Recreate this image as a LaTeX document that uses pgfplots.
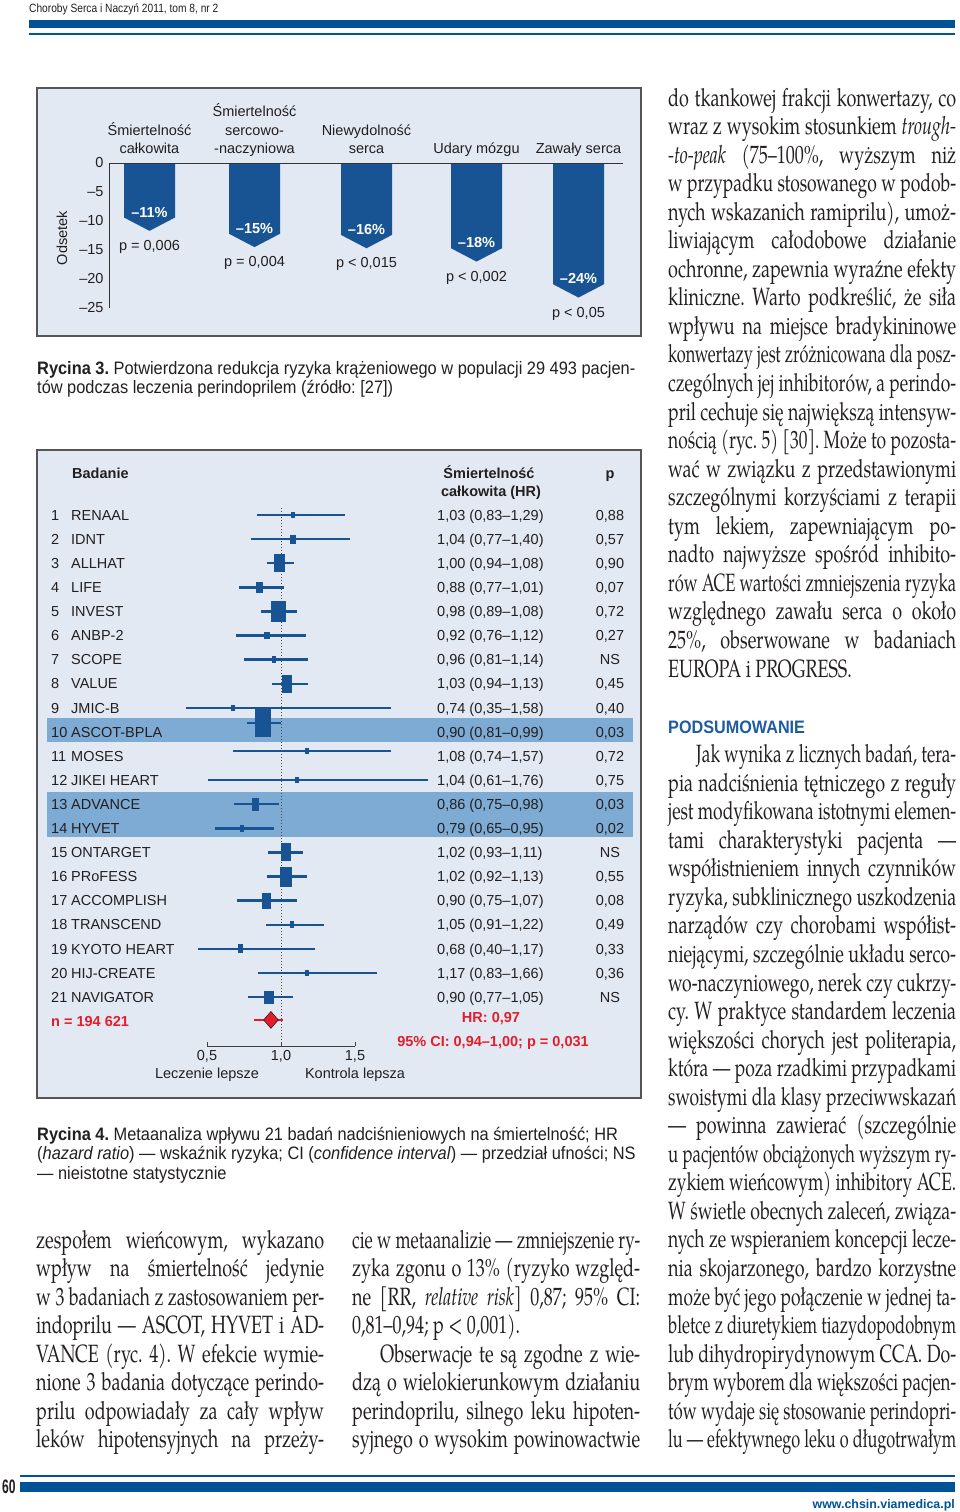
\documentclass[border=0pt]{standalone}
\usepackage{fontspec}
\usepackage{graphicx}
\usepackage{pgfplots}
\usepackage{pgfplotstable}
\pgfplotsset{compat=1.18}
\setmainfont{texgyrepagella}[Extension=.otf, UprightFont=*-regular, BoldFont=*-bold, ItalicFont=*-italic, BoldItalicFont=*-bolditalic, FakeStretch=0.72]
\setsansfont{Liberation Sans}
\newfontfamily\capfont{Liberation Sans}[FakeStretch=0.91]
\newfontfamily\hdrfont{Liberation Sans}[FakeStretch=0.85]
\newfontfamily\headfont{Liberation Sans}[FakeStretch=0.9]
\newfontfamily\numfont{Liberation Sans}[FakeStretch=0.62]
\frenchspacing

\definecolor{barblue}{RGB}{24,83,148}
\definecolor{headblue}{RGB}{0,83,150}
\definecolor{panelbg}{RGB}{227,233,243}
\definecolor{bandc}{RGB}{125,171,212}
\definecolor{framec}{RGB}{85,85,85}
\definecolor{redc}{RGB}{226,30,45}
\definecolor{textc}{RGB}{35,31,32}
\definecolor{subhead}{RGB}{30,92,160}

\newcommand\figfont{\sffamily\fontsize{14.5}{18.5}\selectfont}
\newcommand\bodyfont{\fontsize{25}{28.55}\selectfont\frenchspacing}
\newlength\colw \setlength\colw{288pt}
\newsavebox\lbox
\newcommand\JL[2][\colw]{\sbox\lbox{#2}\ifdim\wd\lbox>#1\relax\resizebox{#1}{\height}{\usebox\lbox}\else\makebox[#1][s]{#2}\fi}

\pgfdeclareplotmark{fbox}{\pgfpathrectangle{\pgfpoint{-0.5*\bw pt}{-0.5*\bh pt}}{\pgfpoint{\bw pt}{\bh pt}}\pgfusepathqfill}

\pgfplotstableread[col sep=semicolon]{
r;ym;hr;lo;hi;w;h;name;txt;p
1;1;1.081;0.838;1.432;4.5;6.5;RENAAL;1,03 (0,83–1,29);0,88
2;2;1.081;0.797;1.466;6;9;IDNT;1,04 (0,77–1,40);0,57
3;3;0.993;0.905;1.088;11;18;ALLHAT;1,00 (0,94–1,08);0,90
4;4;0.858;0.716;1.020;7;11;LIFE;0,88 (0,77–1,01);0,07
5;5;0.980;0.865;1.108;15;21;INVEST;0,98 (0,89–1,08);0,72
6;6;0.905;0.696;1.169;6;7;ANBP-2;0,92 (0,76–1,12);0,27
7;7;0.953;0.750;1.182;4;6.5;SCOPE;0,96 (0,81–1,14);NS
8;8;1.041;0.939;1.182;10;18;VALUE;1,03 (0,94–1,13);0,45
9;9;0.676;0.358;1.743;4;6.5;JMIC-B;0,74 (0,35–1,58);0,40
10;9.63;0.878;0.770;1.000;16;28;ASCOT-BPLA;0,90 (0,81–0,99);0,03
11;10.79;1.176;0.676;1.743;4;6.5;MOSES;1,08 (0,74–1,57);0,72
12;12;1.108;0.507;1.993;4;6.5;JIKEI HEART;1,04 (0,61–1,76);0,75
13;13;0.831;0.682;0.986;7;13;ADVANCE;0,86 (0,75–0,98);0,03
14;14;0.736;0.554;0.953;4.5;6.5;HYVET;0,79 (0,65–0,95);0,02
15;15;1.034;0.912;1.149;10;18;ONTARGET;1,02 (0,93–1,11);NS
16;16;1.034;0.905;1.176;12;20;PRoFESS;1,02 (0,92–1,13);0,55
17;17;0.899;0.703;1.108;9;16;ACCOMPLISH;0,90 (0,75–1,07);0,08
18;18;1.074;0.899;1.291;4;6.5;TRANSCEND;1,05 (0,91–1,22);0,49
19;19;0.723;0.439;1.230;5;9;KYOTO HEART;0,68 (0,40–1,17);0,33
20;20;1.176;0.845;1.649;4;6.5;HIJ-CREATE;1,17 (0,83–1,66);0,36
21;21;0.919;0.777;1.081;10;13;NAVIGATOR;0,90 (0,77–1,05);NS
}\foresttab

\pgfplotstableread{
x tip pct pv
149.5 -11.7 {–11\%} {p = 0,006}
254.5 -14.5 {–15\%} {p = 0,004}
366.5 -14.7 {–16\%} {p < 0,015}
476.5 -17.0 {–18\%} {p < 0,002}
578.5 -23.2 {–24\%} {p < 0,05}
}\barstab

\begin{document}
\begin{tikzpicture}
\begin{scope}[x=1pt,y=-1pt]
\fill[white] (0,0) rectangle (960,1512);
\path[use as bounding box] (0,0) rectangle (960,1512);
% header and footer
\node[anchor=base west, inner sep=0, text=textc] at (29,12.7) {\hdrfont\fontsize{12}{14}\selectfont Choroby Serca i Naczyń 2011, tom 8, nr 2};
\fill[headblue] (29,20) rectangle (955,28);
\fill[headblue] (29,33.2) rectangle (955,34.8);
\fill[headblue] (20,1475.2) rectangle (955,1476.8);
\fill[headblue] (20,1482) rectangle (955,1492);
\node[anchor=base west, inner sep=0, text=textc] at (2,1493) {\numfont\bfseries\fontsize{19.5}{22}\selectfont 60};
\node[anchor=base east, inner sep=0, text=headblue] at (955,1508) {\sffamily\bfseries\fontsize{12.4}{14}\selectfont www.chsin.viamedica.pl};
% panels
\filldraw[fill=panelbg, draw=framec, line width=1.6pt] (37,88) rectangle (641,336);
\filldraw[fill=panelbg, draw=framec, line width=1.6pt] (37,450) rectangle (641,1098);
\fill[bandc] (47,718) rectangle (633,742);
\fill[bandc] (47,792) rectangle (633,837);
% figure 3 label
\node[rotate=90, inner sep=0, font=\figfont, text=textc] at (62,238) {Odsetek};
% figure 4 headers and summary
\node[anchor=base west, inner sep=0, font=\figfont\bfseries, text=textc] at (72,478) {Badanie};
\node[anchor=base, inner sep=0, font=\figfont\bfseries, text=textc] at (489,478) {Śmiertelność};
\node[anchor=base, inner sep=0, font=\figfont\bfseries, text=textc] at (491,496) {całkowita (HR)};
\node[anchor=base, inner sep=0, font=\figfont\bfseries, text=textc] at (610,478) {p};
\node[anchor=base west, inner sep=0, font=\figfont\bfseries, text=redc] at (51,1026) {n = 194 621};
\node[anchor=base, inner sep=0, font=\figfont\bfseries, text=redc] at (491,1022) {HR: 0,97};
\node[anchor=base, inner sep=0, font=\figfont\bfseries, text=redc] at (493,1046) {95\% CI: 0,94–1,00; p = 0,031};
% captions
\node[anchor=base west, inner sep=0, text=textc] at (37,374) {\parbox[t]{660pt}{\raggedright\capfont\fontsize{18}{19.7}\selectfont {\bfseries Rycina 3.} Potwierdzona redukcja ryzyka krążeniowego w populacji 29 493 pacjen-\\tów podczas leczenia perindoprilem (źródło: [27])}};
\node[anchor=base west, inner sep=0, text=textc] at (37,1140) {\parbox[t]{660pt}{\raggedright\capfont\fontsize{18}{19.7}\selectfont {\bfseries Rycina 4.} Metaanaliza wpływu 21 badań nadciśnieniowych na śmiertelność; HR\\(\textit{hazard ratio}) — wskaźnik ryzyka; CI (\textit{confidence interval}) — przedział ufności; NS\\— nieistotne statystycznie}};
% right column
\node[anchor=base west, inner sep=0, text=textc] at (668,106) {\parbox[t]{\colw}{\bodyfont
\JL{do tkankowej frakcji konwertazy, co}\\
\JL{wraz z wysokim stosunkiem \textit{trough-}}\\
\JL{\textit{-to-peak} (75–100\%, wyższym niż}\\
\JL{w przypadku stosowanego w podob-}\\
\JL{nych wskazanich ramiprilu), umoż-}\\
\JL{liwiającym całodobowe działanie}\\
\JL{ochronne, zapewnia wyraźne efekty}\\
\JL{kliniczne. Warto podkreślić, że siła}\\
\JL{wpływu na miejsce bradykininowe}\\
\JL{konwertazy jest zróżnicowana dla posz-}\\
\JL{czególnych jej inhibitorów, a perindo-}\\
\JL{pril cechuje się największą intensyw-}\\
\JL{nością (ryc. 5) [30]. Może to pozosta-}\\
\JL{wać w związku z przedstawionymi}\\
\JL{szczególnymi korzyściami z terapii}\\
\JL{tym lekiem, zapewniającym po-}\\
\JL{nadto najwyższe spośród inhibito-}\\
\JL{rów ACE wartości zmniejszenia ryzyka}\\
\JL{względnego zawału serca o około}\\
\JL{25\%, obserwowane w badaniach}\\
EUROPA i PROGRESS.}};
\node[anchor=base west, inner sep=0, text=subhead] at (668,733) {\headfont\bfseries\fontsize{18}{20}\selectfont PODSUMOWANIE};
\node[anchor=base west, inner sep=0, text=textc] at (668,762.6) {\parbox[t]{\colw}{\bodyfont
\hspace*{28pt}\JL[260pt]{Jak wynika z licznych badań, tera-}\\
\JL{pia nadciśnienia tętniczego z reguły}\\
\JL{jest modyfikowana istotnymi elemen-}\\
\JL{tami charakterystyki pacjenta —}\\
\JL{współistnieniem innych czynników}\\
\JL{ryzyka, subklinicznego uszkodzenia}\\
\JL{narządów czy chorobami współist-}\\
\JL{niejącymi, szczególnie układu serco-}\\
\JL{wo-naczyniowego, nerek czy cukrzy-}\\
\JL{cy. W praktyce standardem leczenia}\\
\JL{większości chorych jest politerapia,}\\
\JL{która — poza rzadkimi przypadkami}\\
\JL{swoistymi dla klasy przeciwwskazań}\\
\JL{— powinna zawierać (szczególnie}\\
\JL{u pacjentów obciążonych wyższym ry-}\\
\JL{zykiem wieńcowym) inhibitory ACE.}\\
\JL{W świetle obecnych zaleceń, związa-}\\
\JL{nych ze wspieraniem koncepcji lecze-}\\
\JL{nia skojarzonego, bardzo korzystne}\\
\JL{może być jego połączenie w jednej ta-}\\
\JL{bletce z diuretykiem tiazydopodobnym}\\
\JL{lub dihydropirydynowym CCA. Do-}\\
\JL{brym wyborem dla większości pacjen-}\\
\JL{tów wydaje się stosowanie perindopri-}\\
\JL{lu — efektywnego leku o długotrwałym}}};
% bottom columns
\node[anchor=base west, inner sep=0, text=textc] at (36,1248) {\parbox[t]{\colw}{\bodyfont
\JL{zespołem wieńcowym, wykazano}\\
\JL{wpływ na śmiertelność jedynie}\\
\JL{w 3 badaniach z zastosowaniem per-}\\
\JL{indoprilu — ASCOT, HYVET i AD-}\\
\JL{VANCE (ryc. 4). W efekcie wymie-}\\
\JL{nione 3 badania dotyczące perindo-}\\
\JL{prilu odpowiadały za cały wpływ}\\
\JL{leków hipotensyjnych na przeży-}}};
\node[anchor=base west, inner sep=0, text=textc] at (352,1248) {\parbox[t]{\colw}{\bodyfont
\JL{cie w metaanalizie — zmniejszenie ry-}\\
\JL{zyka zgonu o 13\% (ryzyko względ-}\\
\JL{ne [RR, \textit{relative risk}] 0,87; 95\% CI:}\\
0,81–0,94; p < 0,001).\\
\hspace*{28pt}\JL[260pt]{Obserwacje te są zgodne z wie-}\\
\JL{dzą o wielokierunkowym działaniu}\\
\JL{perindoprilu, silnego leku hipoten-}\\
\JL{syjnego o wysokim powinowactwie}}};
\end{scope}

% ---------------- Figure 3: bar chart ----------------
\begin{axis}[
  at={(109pt,-163pt)}, anchor=north west,
  width=514pt, height=145pt, scale only axis,
  xmin=109, xmax=623, ymin=-25, ymax=0,
  axis x line*=top, axis y line*=left,
  axis line style={draw=black!80, line width=0.9pt},
  xtick={149.5,254.5,366.5,476.5,578.5},
  xticklabels={{Śmiertelność\\całkowita\strut},{Śmiertelność\\sercowo-\\-naczyniowa\strut},{Niewydolność\\serca\strut},{Udary mózgu\strut},{Zawały serca\strut}},
  xticklabel style={align=center, anchor=south, font=\figfont, text=textc},
  ytick={-25,-20,-15,-10,-5,0},
  yticklabels={–25,–20,–15,–10,–5,0},
  yticklabel style={font=\figfont, text=textc, xshift=-2pt},
  major tick length=0pt,
  clip=false, axis on top,
]
\addplot[fill=barblue, draw=none] coordinates {(124,0) (175,0) (175,-9.4) (149.5,-11.7) (124,-9.4)} -- cycle;
\addplot[fill=barblue, draw=none] coordinates {(229,0) (280,0) (280,-12.2) (254.5,-14.5) (229,-12.2)} -- cycle;
\addplot[fill=barblue, draw=none] coordinates {(341,0) (392,0) (392,-12.4) (366.5,-14.7) (341,-12.4)} -- cycle;
\addplot[fill=barblue, draw=none] coordinates {(451,0) (502,0) (502,-14.7) (476.5,-17.0) (451,-14.7)} -- cycle;
\addplot[fill=barblue, draw=none] coordinates {(553,0) (604,0) (604,-20.9) (578.5,-23.2) (553,-20.9)} -- cycle;
\addplot[only marks, mark=none, nodes near coords, point meta=explicit symbolic,
  nodes near coords align={anchor=center},
  every node near coord/.append style={font=\figfont\bfseries, text=white, inner sep=0pt, text height=10.4pt, text depth=0pt, yshift=19pt}]
  table[x=x, y=tip, meta=pct]{\barstab};
\addplot[only marks, mark=none, nodes near coords, point meta=explicit symbolic,
  nodes near coords align={anchor=center},
  every node near coord/.append style={font=\figfont, text=textc, inner sep=0pt, text height=10.4pt, text depth=0pt, yshift=-14.5pt}]
  table[x=x, y=tip, meta=pv]{\barstab};
\end{axis}

% ---------------- Figure 4: forest plot ----------------
\begin{axis}[
  at={(207pt,-502.95pt)}, anchor=north west,
  width=148pt, height=543pt, scale only axis,
  xmin=0.5, xmax=1.5, ymin=-23.03, ymax=-0.5,
  axis x line*=bottom, axis y line=none,
  axis line style={draw=black!75, line width=0.9pt},
  xtick={0.5,1,1.5},
  xticklabels={{0,5\\Leczenie lepsze},{1,0},{1,5\\Kontrola lepsza}},
  xticklabel style={align=center, anchor=north, font=\figfont, text=textc, inner sep=0pt, yshift=-4pt},
  tick align=inside, major tick length=4pt,
  tick style={draw=black!75, line width=0.9pt},
  clip=false,
]
\draw[black!70, line width=1pt, dash pattern=on 1pt off 2pt] (axis cs:1,-0.71) -- (axis cs:1,-22.9);
% whiskers
\addplot[draw=none, mark=none,
  error bars/.cd, x dir=both, x explicit, error mark=none,
  error bar style={draw=barblue, line width=2.4pt}]
  table[x=hr, y expr=-\thisrow{ym}, x error plus expr=\thisrow{hi}-\thisrow{hr}, x error minus expr=\thisrow{hr}-\thisrow{lo}]{\foresttab};
% weighted squares
\addplot[only marks, mark=fbox, mark options={fill=barblue, draw=none},
  visualization depends on={\thisrow{w}\as\bw},
  visualization depends on={\thisrow{h}\as\bh}]
  table[x=hr, y expr=-\thisrow{ym}]{\foresttab};
% pooled estimate
\addplot[draw=none, mark=none,
  error bars/.cd, x dir=both, x explicit, error mark=none,
  error bar style={draw=redc, line width=2.4pt}]
  coordinates {(0.932,-21.95) += (0.082,0) -= (0.114,0)};
\addplot[only marks, mark=diamond*, mark size=8.5pt, mark options={fill=redc, draw=none, xscale=1.15}]
  coordinates {(0.932,-21.95)};
% row texts
\addplot[only marks, mark=none, nodes near coords, point meta=explicit symbolic,
  nodes near coords align={anchor=west},
  every node near coord/.append style={font=\figfont, text=textc, inner sep=0pt, text height=10.4pt, text depth=0pt}]
  table[x expr=-0.554, y expr=-\thisrow{r}, meta=r]{\foresttab};
\addplot[only marks, mark=none, nodes near coords, point meta=explicit symbolic,
  nodes near coords align={anchor=west},
  every node near coord/.append style={font=\figfont, text=textc, inner sep=0pt, text height=10.4pt, text depth=0pt}]
  table[x expr=-0.419, y expr=-\thisrow{r}, meta=name]{\foresttab};
\addplot[only marks, mark=none, nodes near coords, point meta=explicit symbolic,
  nodes near coords align={anchor=west},
  every node near coord/.append style={font=\figfont, text=textc, inner sep=0pt, text height=10.4pt, text depth=0pt}]
  table[x expr=2.054, y expr=-\thisrow{r}, meta=txt]{\foresttab};
\addplot[only marks, mark=none, nodes near coords, point meta=explicit symbolic,
  nodes near coords align={anchor=center},
  every node near coord/.append style={font=\figfont, text=textc, inner sep=0pt, text height=10.4pt, text depth=0pt}]
  table[x expr=3.223, y expr=-\thisrow{r}, meta=p]{\foresttab};
\end{axis}
\end{tikzpicture}
\end{document}
